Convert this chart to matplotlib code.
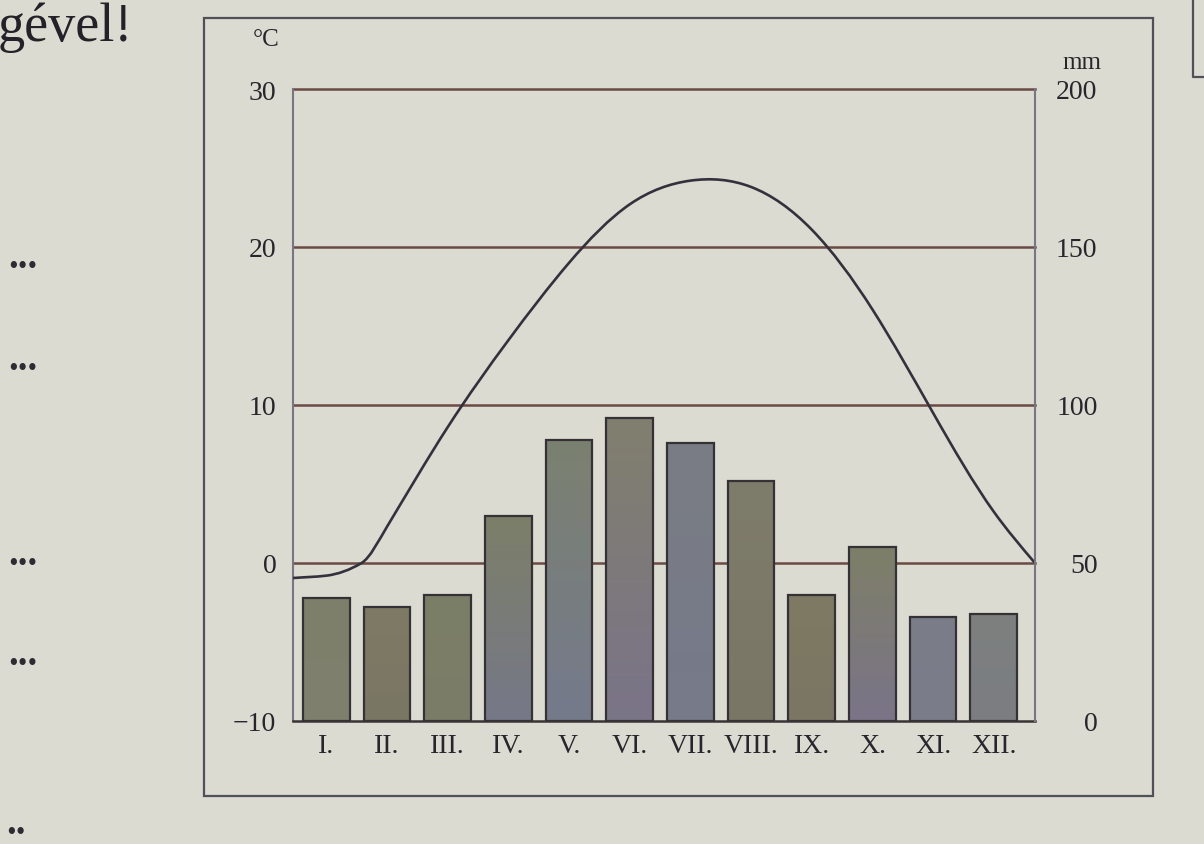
import numpy as np
import matplotlib
matplotlib.use("Agg")
import matplotlib.pyplot as plt
from matplotlib.path import Path
from matplotlib.patches import PathPatch, Rectangle
from matplotlib.lines import Line2D
from matplotlib.colors import to_rgb

# climate diagram data
months = ["I.", "II.", "III.", "IV.", "V.", "VI.", "VII.", "VIII.", "IX.", "X.", "XI.", "XII."]
precip_mm = [39, 36, 40, 65, 89, 96, 88, 76, 40, 55, 33, 34]
temp_c = [-0.8, 2.3, 8.6, 14.1, 19.0, 22.7, 24.2, 23.8, 21.1, 16.05, 9.5, 3.25]
# extra readings of the curve: both frame edges and the spring 0 degC crossing
temp_left_edge = -0.95
temp_right_edge = 0.0
spring_zero_month = 0.58
temp_ticks = [-10, 0, 10, 20, 30]
temp_labels = ["\u221210", "0", "10", "20", "30"]
precip_ticks = [0, 50, 100, 150, 200]

plt.rcParams["font.family"] = ["Liberation Serif", "DejaVu Serif"]

paper = "#dcdbd1"
grid_brown = "#6b4a44"
frame_grey = "#767684"
ink = "#26262c"
# the printed bars shade from an olive top to a greyer / bluer foot
bar_top = ["#7f806a", "#7e7a64", "#7c7f66", "#7c7f68", "#7b8170", "#817f6e",
           "#7a7d84", "#7e7c6a", "#7e7a62", "#7e7f68", "#7a7d88", "#7d807e"]
bar_foot = ["#7e7f6e", "#7a7664", "#7b7c68", "#767888", "#757a8c", "#7a7488",
            "#767a8a", "#7a7666", "#7b7664", "#7a7488", "#7b7e8a", "#7b7d82"]

W, H = 1204, 845
XMIN, XMAX = -0.55, 11.68


def spline_slopes(xs, ys):
    # slopes of the natural cubic spline through the points
    n = len(xs)
    h = np.diff(xs)
    d = np.diff(ys) / h
    A = np.zeros((n, n))
    r = np.zeros(n)
    A[0, 0] = A[-1, -1] = 1.0
    for i in range(1, n - 1):
        A[i, i - 1] = h[i - 1]
        A[i, i] = 2 * (h[i - 1] + h[i])
        A[i, i + 1] = h[i]
        r[i] = 6 * (d[i] - d[i - 1])
    M = np.linalg.solve(A, r)
    m = np.empty(n)
    m[:-1] = d - h * (2 * M[:-1] + M[1:]) / 6
    m[-1] = d[-1] + h[-1] * (M[-2] + 2 * M[-1]) / 6
    return m


def pchip_slopes(xs, ys):
    n = len(xs)
    h = np.diff(xs)
    d = np.diff(ys) / h
    m = np.zeros(n)
    m[0], m[-1] = d[0], d[-1]
    for k in range(1, n - 1):
        if d[k - 1] * d[k] > 0:
            w1 = 2 * h[k] + h[k - 1]
            w2 = h[k] + 2 * h[k - 1]
            m[k] = (w1 + w2) / (w1 / d[k - 1] + w2 / d[k])
    return m


def smooth_path(xs, ys, n_flat=3):
    # spline slopes, except on the flat winter start where a spline would wobble
    xs = np.asarray(xs, float)
    ys = np.asarray(ys, float)
    m = spline_slopes(xs, ys)
    m[:n_flat] = pchip_slopes(xs, ys)[:n_flat]
    h = np.diff(xs)
    verts = [(xs[0], ys[0])]
    codes = [Path.MOVETO]
    for i in range(len(xs) - 1):
        k = h[i] / 3
        verts += [(xs[i] + k, ys[i] + m[i] * k),
                  (xs[i + 1] - k, ys[i + 1] - m[i + 1] * k),
                  (xs[i + 1], ys[i + 1])]
        codes += [Path.CURVE4] * 3
    return Path(verts, codes)


fig = plt.figure(figsize=(W / 100, H / 100), dpi=100, facecolor=paper)
ax = fig.add_axes([293 / W, 1 - 722 / H, (1035 - 293) / W, (722 - 90) / H])
ax.set_facecolor(paper)
ax2 = ax.twinx()

x = np.arange(len(months))
ax.set_xlim(XMIN, XMAX)
ax.set_ylim(-10, 30)
ax2.set_ylim(0, 200)

# horizontal rules at 0, 10, 20, 30 degC
for t in temp_ticks[1:]:
    ax.axhline(t, color=grid_brown, lw=1.8, zorder=1, clip_on=False)

# precipitation bars, filled with a soft vertical shade
bars = ax2.bar(x, precip_mm, width=0.77, color="none", edgecolor="#343236", linewidth=1.6, zorder=3)
for b, c_top, c_foot in zip(bars, bar_top, bar_foot):
    shade = np.linspace(0, 1, 64)[:, None, None]
    img = (1 - shade) * np.array(to_rgb(c_top)) + shade * np.array(to_rgb(c_foot))
    bx, bw, bh = b.get_x(), b.get_width(), b.get_height()
    im = ax2.imshow(img, extent=(bx, bx + bw, 0, bh), origin="upper", aspect="auto",
                    interpolation="bilinear", zorder=2)
    im.set_clip_path(b)
ax2.set_xlim(XMIN, XMAX)
ax2.set_ylim(0, 200)

# temperature curve
cx = [XMIN, 0, spring_zero_month] + list(x[1:]) + [XMAX]
cy = [temp_left_edge, temp_c[0], 0.0] + temp_c[1:] + [temp_right_edge]
ax.add_patch(PathPatch(smooth_path(cx, cy), fill=False, edgecolor="#34313d", lw=1.9, zorder=3))

# spines
for s in ["top", "right"]:
    ax.spines[s].set_visible(False)
for s in ["top", "left", "bottom"]:
    ax2.spines[s].set_visible(False)
ax.spines["left"].set_color(frame_grey)
ax.spines["left"].set_linewidth(1.5)
ax2.spines["right"].set_color(frame_grey)
ax2.spines["right"].set_linewidth(1.5)
ax.spines["bottom"].set_color("#3a3234")
ax.spines["bottom"].set_linewidth(1.8)

ax.set_yticks(temp_ticks)
ax.set_yticklabels(temp_labels)
ax.tick_params(axis="y", length=0, pad=12, labelsize=20, labelcolor=ink)
ax.set_xticks(x)
ax.set_xticklabels(months)
ax.tick_params(axis="x", length=0, pad=9, labelsize=20, labelcolor=ink)

ax2.set_yticks(precip_ticks)
ax2.tick_params(axis="y", length=0, pad=45, labelsize=20, labelcolor=ink)
for lab in ax2.get_yticklabels():
    lab.set_horizontalalignment("right")

fig.text(280 / W, 1 - 40 / H, "°C", ha="right", va="center", fontsize=18, color=ink)
fig.text(1101 / W, 1 - 63 / H, "mm", ha="right", va="center", fontsize=18, color=ink)

# outer frame of the figure on the page
fig.add_artist(Rectangle((204 / W, 1 - 797 / H), (1153 - 204) / W, (797 - 19) / H,
                         transform=fig.transFigure, fill=False, edgecolor="#505058", lw=1.6))
fig.add_artist(Line2D([1193 / W, 1193 / W, 1.0], [1.0, 1 - 78 / H, 1 - 78 / H],
                      transform=fig.transFigure, color="#505058", lw=1.6))

# bits of the surrounding page
fig.text(-2 / W, 1 - 41 / H, "gével!", ha="left", va="baseline", fontsize=39, color="#222228")
for yy in [268, 370, 565, 665]:
    fig.text(37 / W, 1 - yy / H, "...", ha="right", va="baseline", fontsize=28,
             fontweight="bold", color="#2c2c32")
fig.text(26 / W, 1 - 834 / H, "..", ha="right", va="baseline", fontsize=28,
         fontweight="bold", color="#2c2c32")

fig.savefig("out.png", dpi=100, facecolor=paper)
